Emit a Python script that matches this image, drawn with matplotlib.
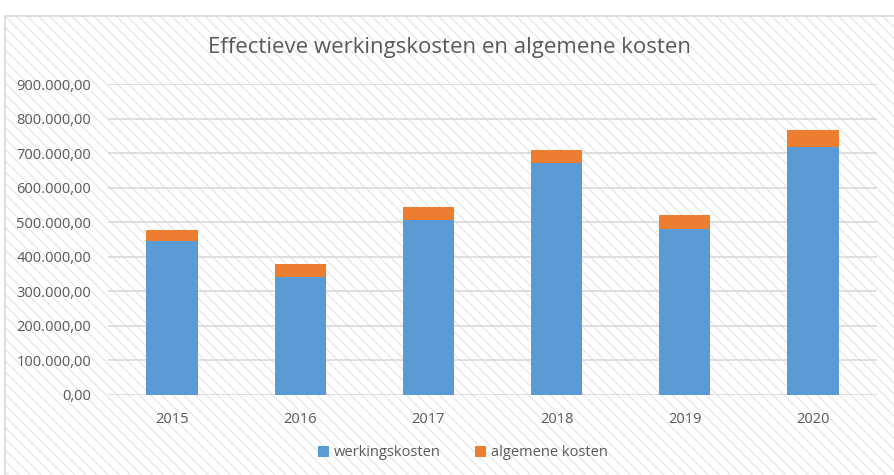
import matplotlib
matplotlib.use('Agg')
import matplotlib.pyplot as plt
from matplotlib.patches import Rectangle
from matplotlib.ticker import FuncFormatter

years = ['2015', '2016', '2017', '2018', '2019', '2020']
werkingskosten = [446000, 341000, 506000, 670000, 480000, 717000]
algemene_kosten = [31000, 39000, 39000, 38000, 40000, 49000]
series_names = ['werkingskosten', 'algemene kosten']
colors = ['#5B9BD5', '#ED7D31']
title = 'Effectieve werkingskosten en algemene kosten'

plt.rcParams['font.family'] = ['Open Sans', 'DejaVu Sans']
plt.rcParams['hatch.linewidth'] = 0.9
text_color = '#595959'


def nl_format(v, pos):
    # 100000 -> 100.000,00
    return f'{v:,.2f}'.replace(',', 'X').replace('.', ',').replace('X', '.')


fig = plt.figure(figsize=(8.95, 4.75), dpi=100)

# hatched chart area background, behind the axes
bg = Rectangle((5 / 895, -0.05), 1.0, (475 - 16) / 475 + 0.05, transform=fig.transFigure,
               facecolor='white', edgecolor='#e6e6e6', hatch='\\\\\\', linewidth=0, zorder=-10)
fig.patches.append(bg)
border = Rectangle((5 / 895, -0.05), 1.0, (475 - 16) / 475 + 0.05, transform=fig.transFigure,
                   facecolor='none', edgecolor='#d9d9d9', linewidth=1.2, zorder=-9)
fig.patches.append(border)

ax = fig.add_axes([108 / 895, 80 / 475, (877 - 108) / 895, (395 - 84) / 475])
ax.set_facecolor('none')

x = range(len(years))
ax.bar(x, werkingskosten, width=0.4, color=colors[0], label=series_names[0], zorder=3)
ax.bar(x, algemene_kosten, width=0.4, bottom=werkingskosten, color=colors[1],
       label=series_names[1], zorder=3)

ax.set_xlim(-0.5, len(years) - 0.5)
ax.set_ylim(0, 900000)
ax.set_yticks(range(0, 900001, 100000))
ax.yaxis.set_major_formatter(FuncFormatter(nl_format))
ax.set_xticks(list(x))
ax.set_xticklabels(years)
ax.grid(axis='y', color='#d9d9d9', linewidth=1.2, zorder=1)
ax.set_axisbelow(True)
for s in ax.spines.values():
    s.set_visible(False)
ax.tick_params(length=0, colors=text_color, labelsize=10.5)
ax.tick_params(axis='x', pad=12)
ax.tick_params(axis='y', pad=12)

fig.text(450 / 895, 1 - 47 / 475, title, ha='center', va='center', fontsize=16,
         color=text_color)

leg = fig.legend(loc='center', bbox_to_anchor=(463 / 895, 1 - 453 / 475), ncol=2,
                 frameon=False, fontsize=10.5, handlelength=0.75, handleheight=0.75,
                 handletextpad=0.3, columnspacing=2.4)
for t in leg.get_texts():
    t.set_color(text_color)

fig.savefig('out.png', dpi=100)
